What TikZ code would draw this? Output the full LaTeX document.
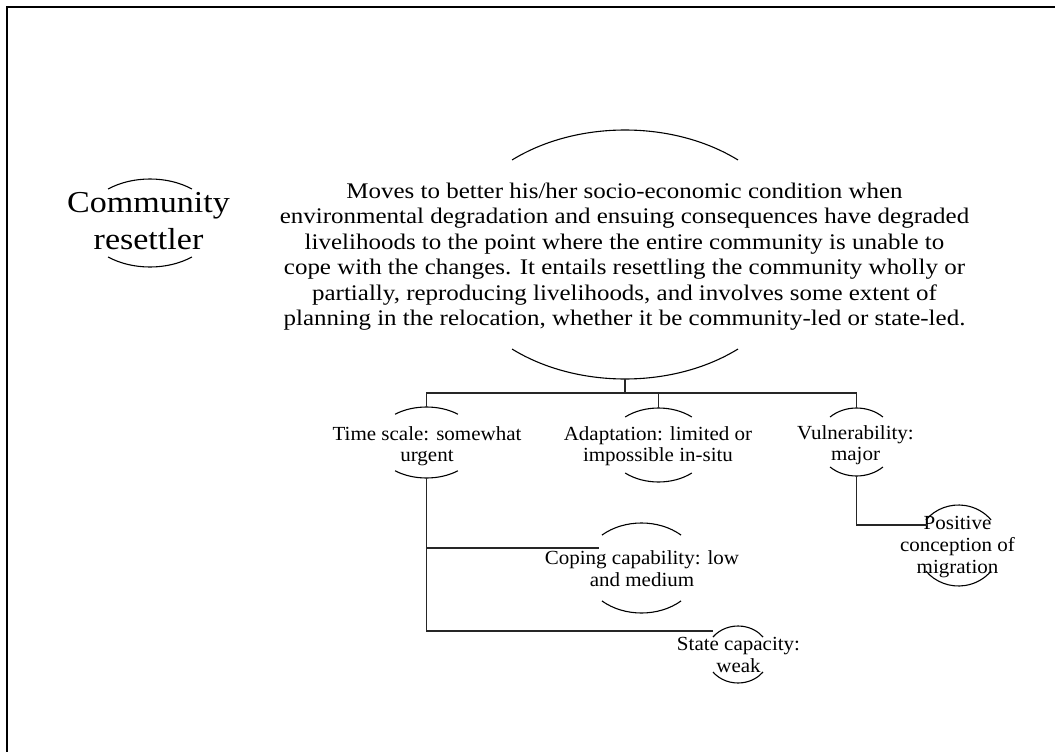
\documentclass[tikz,border=0pt]{standalone}
\usepackage{fontspec}
\setmainfont{Liberation Serif}
\newfontfamily\widerface[FakeStretch=1.12]{Liberation Serif}
\newfontfamily\smallface[FakeStretch=1.05]{Liberation Serif}
\usetikzlibrary{shapes.geometric}

% top and bottom caps of an invisible ellipse node:
% #1 node, #2 x radius, #3 y radius, #4 half-opening angle (bp / degrees)
\newcommand\ovalcaps[4]{%
  \draw[capline] (#1.center) ++(180-#4:#2bp and #3bp)
    arc[start angle=180-#4, end angle=#4, x radius=#2bp, y radius=#3bp];
  \draw[capline] (#1.center) ++(180+#4:#2bp and #3bp)
    arc[start angle=180+#4, end angle=360-#4, x radius=#2bp, y radius=#3bp];
}

\tikzset{
  oval/.style n args={2}{ellipse, draw=none, inner sep=0pt,
    minimum width=#1, minimum height=#2},
  capline/.style={line width=1.1bp, black},
  link/.style={line width=1.1bp, black!85},
  frameline/.style={line width=2bp, black},
  bodytext/.style={align=center, inner sep=0pt,
    font={\widerface\fontsize{22.3bp}{25.5bp}\selectfont}},
  titletext/.style={align=center, inner sep=0pt,
    font={\widerface\fontsize{30.4bp}{37bp}\selectfont}},
  smalltext/.style={align=center, inner sep=0pt,
    font={\smallface\fontsize{20bp}{21.8bp}\selectfont}},
}

\begin{document}
\begin{tikzpicture}[x=1bp, y=-1bp]
\useasboundingbox (0,0) rectangle (1055,752);
\fill[white] (0,0) rectangle (1055,752);

% outer frame (open to the right and bottom)
\draw[frameline] (1060,6.7) -| (7,760);

% ellipse outlines (anchors for the connectors)
\node[oval={347.2bp}{249bp}] (main)  at (625,254.5) {};
\node[oval={132bp}{88bp}]    (comm)  at (150,223) {};
\node[oval={104bp}{71bp}]    (time)  at (426.5,442.5) {};
\node[oval={102bp}{74bp}]    (adapt) at (658.5,445) {};
\node[oval={78bp}{68bp}]     (vuln)  at (856.5,442) {};
\node[oval={84bp}{81bp}]     (pos)   at (958.5,545.5) {};
\node[oval={116bp}{90bp}]    (cope)  at (641.5,568) {};
\node[oval={63.4bp}{57bp}]   (state) at (738,654.5) {};

\ovalcaps{main}{173.6}{124.5}{49.4}
\ovalcaps{comm}{66}{44}{50.6}
\ovalcaps{time}{52}{35.5}{52.8}
\ovalcaps{adapt}{51}{37}{49.2}
\ovalcaps{vuln}{39}{34}{47.3}
\ovalcaps{pos}{42}{40.5}{39}
\ovalcaps{cope}{58}{45}{47}
\ovalcaps{state}{31.7}{28.5}{37.9}

% texts
\node[titletext] (commtext) at (148.5,221.2) {Community\\resettler};
\node[bodytext] (maintext) at (624.5,256.6)
  {Moves to better his/her socio-economic condition when\\
   environmental degradation and ensuing consequences have degraded\\
   livelihoods to the point where the entire community is unable to\\
   cope with the changes. It entails resettling the community wholly or\\
   partially, reproducing livelihoods, and involves some extent of\\
   planning in the relocation, whether it be community-led or state-led.};
\node[smalltext] (timetext)  at (427,446.2)   {Time scale: somewhat\\urgent};
\node[smalltext] (adapttext) at (658,446.2)   {Adaptation: limited or\\impossible in-situ};
\node[smalltext] (vulntext)  at (855.5,445.2) {Vulnerability:\\major};
\node[smalltext] (postext)   at (957.5,547.1) {Positive\\conception of\\migration};
\node[smalltext] (copetext)  at (642,569)     {Coping capability: low\\and medium};
\node[smalltext] (statetext) at (738.5,654.9) {State capacity:\\weak};

% connectors
\coordinate (bus)      at (625,393);
\coordinate (copeend)  at (599,548);
\coordinate (stateend) at (713,631);
\coordinate (posend)   at (927,525);

\draw[link] (main.south) -- (bus);
\draw[link] (time.north) |- (bus) -| (vuln.north);
\draw[link] (adapt.north) -- (adapt.north |- bus);
\draw[link] (time.south) |- (stateend);
\draw[link] (time.south |- copeend) -- (copeend);
\draw[link] (vuln.south) |- (posend);
\end{tikzpicture}
\end{document}
